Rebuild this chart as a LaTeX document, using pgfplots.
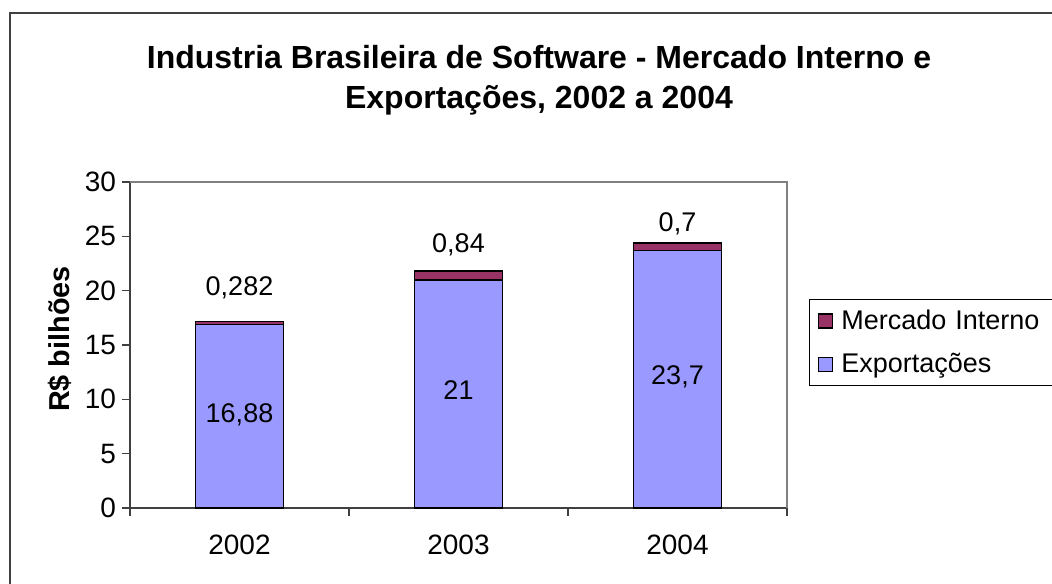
\documentclass[border=0pt]{standalone}
\usepackage{pgfplots}
\pgfplotsset{compat=1.18}
\usepackage{fontspec}
\setmainfont{Liberation Sans}
\definecolor{expblue}{HTML}{9999FF}
\definecolor{mired}{HTML}{993366}
\definecolor{axgray}{HTML}{404040}
\begin{document}
\begin{tikzpicture}
\clip (0,0) rectangle (526pt,291.5pt);
\fill[white] (0,0) rectangle (526pt,291.5pt);
\draw[line width=1pt, axgray] (5pt,-5pt) -- (5pt,285pt) -- (540pt,285pt);
\node[align=center, font=\bfseries\fontsize{16}{20}\selectfont] at (269.5pt,251.5pt)
  {Industria Brasileira de Software - Mercado Interno e\\Exportações, 2002 a 2004};
\begin{axis}[
  at={(65pt,37.5pt)}, anchor=south west,
  scale only axis, width=328.5pt, height=163pt,
  ybar stacked, bar width=44pt,
  xmin=-0.5, xmax=2.5, ymin=0, ymax=30,
  xtick={0,1,2}, xticklabels={2002,2003,2004},
  minor xtick={-0.5,0.5,1.5,2.5},
  major x tick style={draw=none},
  minor tick length=4pt,
  ytick={0,5,10,15,20,25,30},
  major tick length=4pt,
  tick align=outside,
  axis x line*=bottom, axis y line*=left,
  axis line style={-, axgray, line width=0.8pt},
  tick style={axgray, line width=0.8pt},
  /pgf/number format/assume math mode=true,
  ticklabel style={font=\fontsize{14}{16}\selectfont},
  xticklabel style={yshift=-6pt},
  yticklabel style={xshift=0.5pt},
  every axis y label/.style={at={(axis description cs:-0.1065,0.518)}, rotate=90, anchor=center},
  ylabel={R\$ bilhões},
  ylabel style={font=\bfseries\fontsize{14.4}{16}\selectfont},
  reverse legend,
  legend style={at={(axis description cs:1.0335,0.641)}, anchor=north west,
    draw=black, line width=0.6pt, font=\fontsize{13.5}{16}\selectfont,
    row sep=6.5pt, inner xsep=4pt, inner ysep=3pt,
    text width=110pt},
  legend cell align=left,
  legend image code/.code={\draw[#1, line width=0.75pt] (0pt,-3.5pt) rectangle (7pt,3.5pt); \path (9pt,0pt);},
  clip=false,
]
\addplot[fill=expblue, draw=black, line width=0.9pt] coordinates {(0,16.88) (1,21) (2,23.7)};
\addplot[fill=mired, draw=black, line width=0.9pt] coordinates {(0,0.282) (1,0.84) (2,0.7)};
\legend{Exportações, Mercado Interno}
\coordinate (tl) at (rel axis cs:0,1);
\coordinate (tr) at (rel axis cs:1,1);
\coordinate (br) at (rel axis cs:1,0);
\coordinate (a0) at (axis cs:0,7.91);
\coordinate (a1) at (axis cs:1,10.03);
\coordinate (a2) at (axis cs:2,11.32);
\coordinate (b0) at (axis cs:0,19.6);
\coordinate (b1) at (axis cs:1,23.47);
\coordinate (b2) at (axis cs:2,25.4);
\end{axis}
\draw[gray, line width=0.8pt] (tl) -- (tr) -- (br);
\begin{scope}[every node/.style={font=\fontsize{13.5}{16}\selectfont, anchor=base}]
\node at (a0) {16,88};
\node at (a1) {21};
\node at (a2) {23,7};
\node at (b0) {0,282};
\node at (b1) {0,84};
\node at (b2) {0,7};
\end{scope}
\end{tikzpicture}
\end{document}
